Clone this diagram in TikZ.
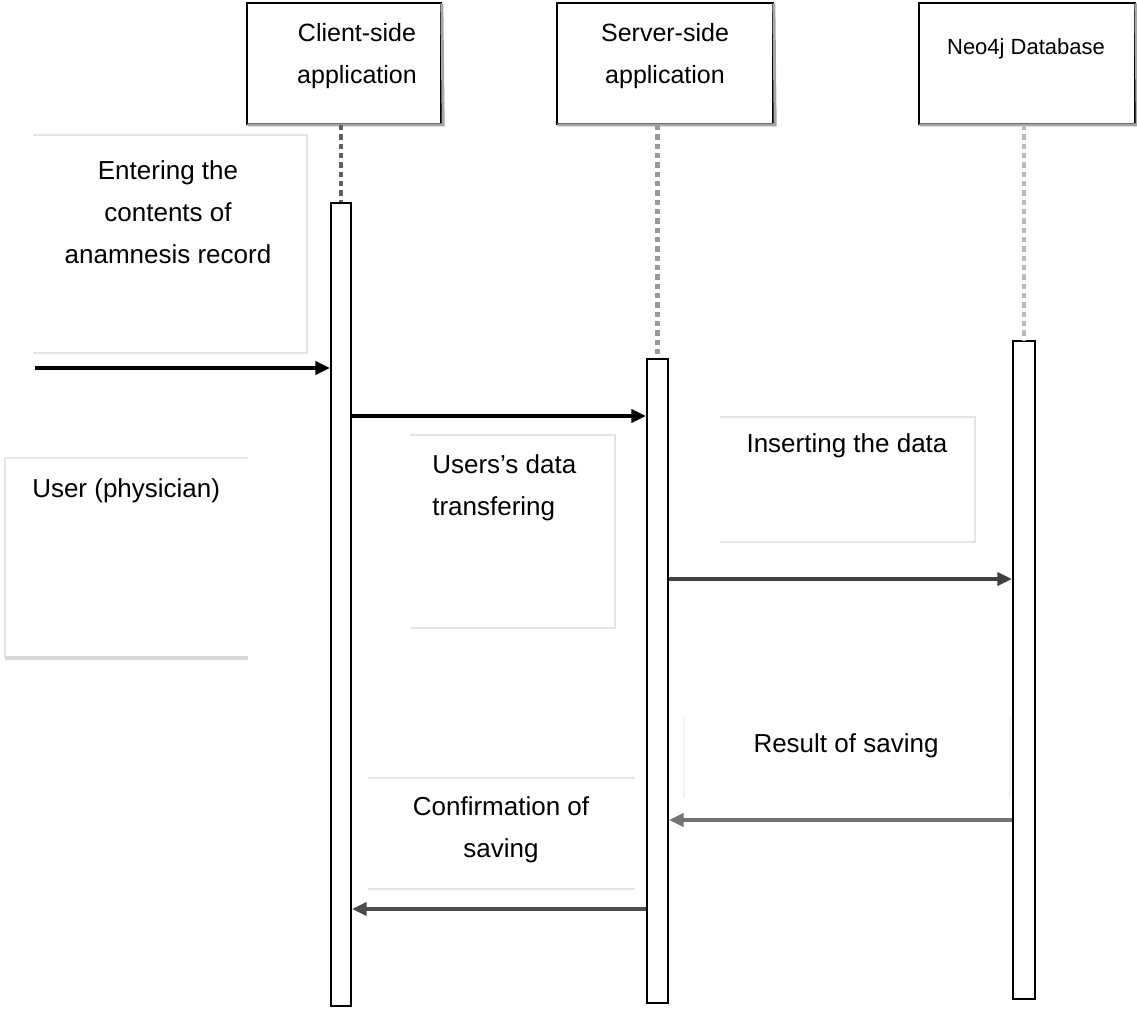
\documentclass[tikz,border=0pt]{standalone}
\usepackage{fontspec}
\setmainfont{Liberation Sans}
\usetikzlibrary{arrows.meta}
\definecolor{frame}{HTML}{E4E4E4}
\definecolor{frameb}{HTML}{D8D8D8}
\begin{document}
\begin{tikzpicture}[x=0.75pt,y=-0.75pt,
  lbl/.style={font=\fontsize{19.5}{31.5}\selectfont, inner sep=0pt, align=center},
  hlbl/.style={font=\fontsize{18.75}{31.5}\selectfont, inner sep=0pt, align=center},
  hdrbox/.style={draw=black, line width=1.3pt, minimum width=145.5pt, minimum height=90.75pt, inner sep=0pt},
  actbar/.style={draw=black, fill=white, line width=1.6pt, inner sep=0pt, anchor=north},
  lifeline/.style={line width=3.6pt, dash pattern=on 4pt off 3pt},
  msg/.style={line width=2.6pt, -{Triangle[length=11pt,width=10pt]}},
  lblframe/.style={draw=frame, line width=2.2pt},
  shadowline/.style={draw=gray!70, line width=2.2pt}
]
\useasboundingbox (0,0) rectangle (1137,1010);

% header boxes
\node[hdrbox] (cbox) at (344,63.5) {};
\node[hdrbox, minimum width=162pt] (sbox) at (665,63.5) {};
\node[hdrbox, minimum width=162pt] (dbox) at (1027,63.5) {};
\draw[shadowline] ([xshift=1pt]cbox.south west) -- ([xshift=1pt]cbox.south east) -- ([yshift=-1pt]cbox.north east);
\draw[shadowline] ([xshift=1pt]sbox.south west) -- ([xshift=1pt]sbox.south east) -- ([yshift=-1pt]sbox.north east);
\draw[shadowline] ([xshift=1pt]dbox.south west) -- ([xshift=1pt]dbox.south east) -- ([yshift=-1pt]dbox.north east);
\node[hlbl] (ctext) at (357,56) {Client-side\\application};
\node[hlbl] (stext) at (665,56) {Server-side\\application};
\node[hlbl, font=\fontsize{16.5}{24}\selectfont] (dtext) at (1026,49) {Neo4j Database};

% activation bars
\node[actbar, minimum width=15pt, minimum height=602.25pt] (cbar) at (341,202) {};
\node[actbar, minimum width=15.75pt, minimum height=483pt] (sbar) at (657.5,358) {};
\node[actbar, minimum width=16.5pt, minimum height=493.5pt] (dbar) at (1024,340) {};

% lifelines
\draw[lifeline, draw=gray!75!black] (cbox.south -| cbar.north) -- (cbar.north);
\draw[lifeline, draw=gray!80, line width=3.2pt] (sbox.south -| sbar.north) -- (sbar.north);
\draw[lifeline, draw=gray!55, line width=3pt] (dbox.south -| dbar.north) -- (dbar.north);

% label frames
\draw[lblframe] (33,135) -- (307,135) -- (307,353) -- (33,353);
\draw[lblframe] (248,458) -- (5,458) -- (5,658);
\draw[draw=frameb, line width=2.6pt] (5,658) -- (248,658);
\draw[lblframe] (410,435) -- (615,435) -- (615,628) -- (410,628);
\draw[lblframe] (720,417) -- (975,417) -- (975,542) -- (720,542);
\draw[lblframe, draw=gray!10] (684,717) -- (684,798);
\draw[lblframe, draw=gray!10] (1010,717) -- (1010,798);
\draw[lblframe] (368,778) -- (635,778);
\draw[lblframe] (368,889) -- (635,889);

% labels
\node[lbl] (l1) at (168,212) {Entering the\\contents of\\anamnesis record};
\node[lbl, anchor=west] (l2) at (32,491) {User (physician)};
\node[lbl, anchor=west, align=left] (l3) at (432,488) {Users’s data\\transfering};
\node[lbl] (l4) at (847,446) {Inserting the data};
\node[lbl] (l5) at (846,746) {Result of saving};
\node[lbl] (l6) at (501,830) {Confirmation of\\saving};

% message rows
\coordinate (u) at (35,368);
\coordinate (y2) at (0,416);
\coordinate (y3) at (0,579);
\coordinate (y4) at (0,820);
\coordinate (y5) at (0,909);

% messages
\draw[msg, draw=black, line width=2.4pt] (u) -- (cbar.west |- u);
\draw[msg, draw=black] (cbar.east |- y2) -- (sbar.west |- y2);
\draw[msg, draw=black!75] (sbar.east |- y3) -- (dbar.west |- y3);
\draw[msg, draw=black!55, line width=2.4pt] (dbar.west |- y4) -- (sbar.east |- y4);
\draw[msg, draw=black!70] (sbar.west |- y5) -- (cbar.east |- y5);
\end{tikzpicture}
\end{document}
